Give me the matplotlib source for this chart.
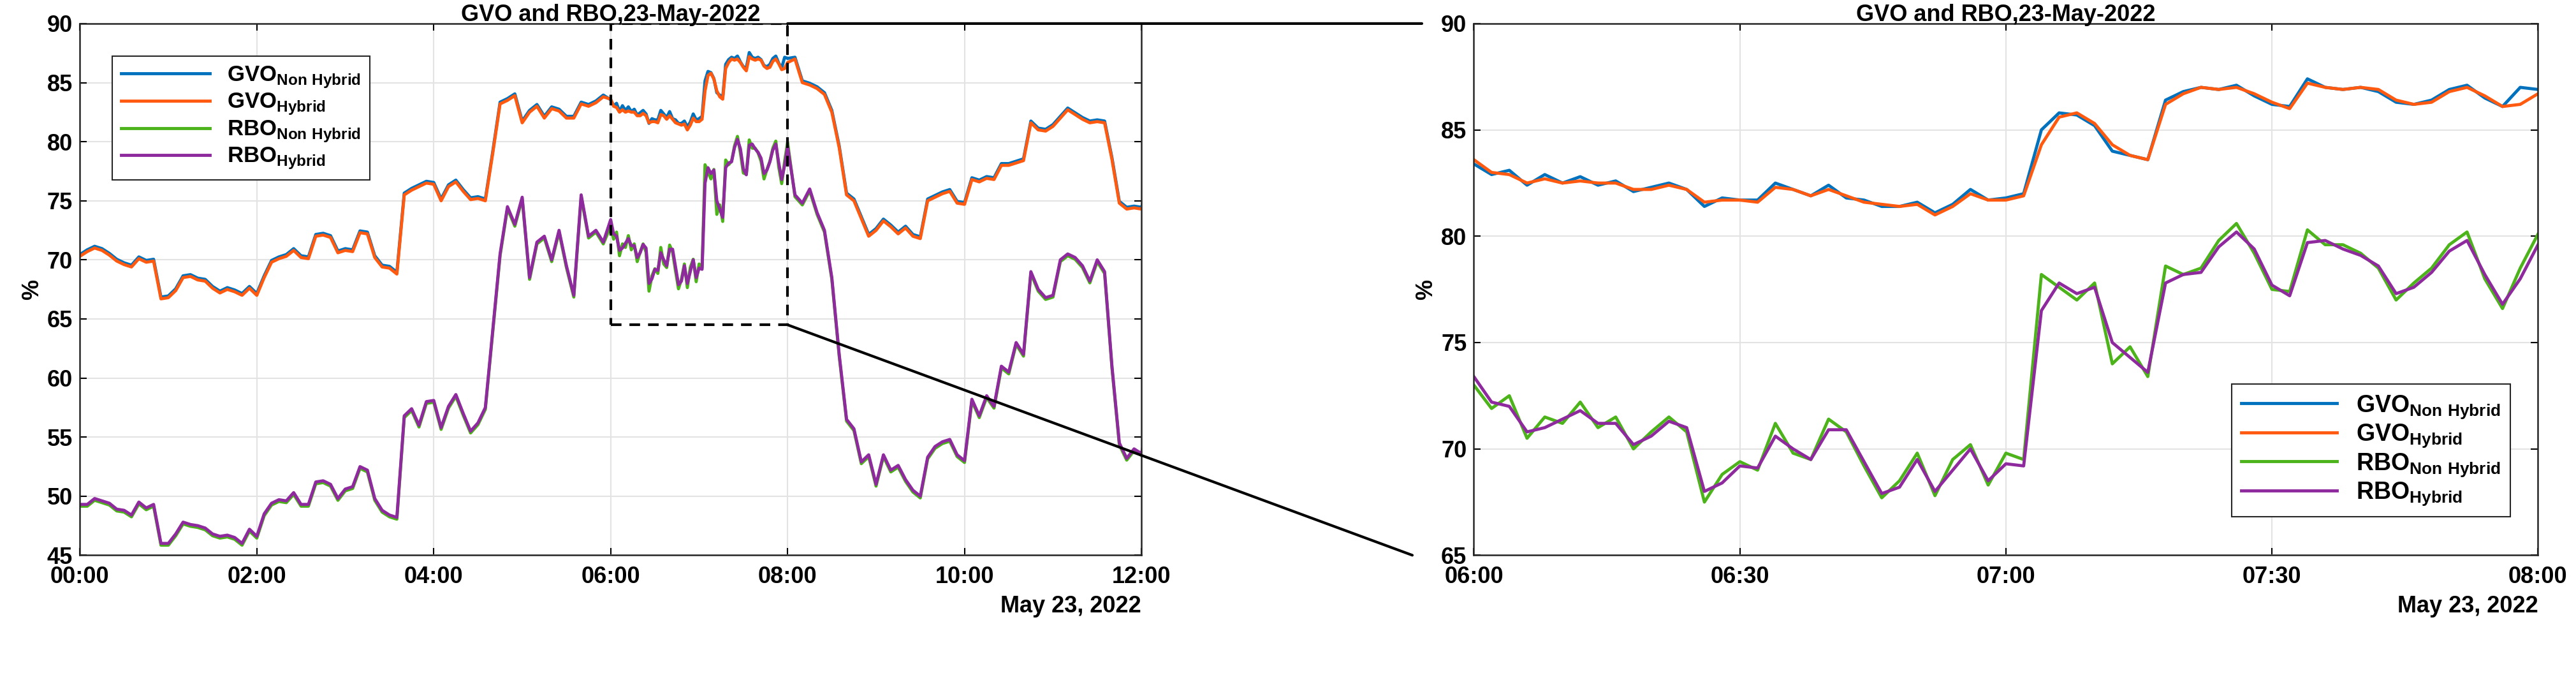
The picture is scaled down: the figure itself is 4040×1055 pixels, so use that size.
import numpy as np
import matplotlib
matplotlib.use('Agg')
import matplotlib.pyplot as plt
from matplotlib.patches import Rectangle, ConnectionPatch

plt.rcParams['font.family'] = ['Liberation Sans', 'DejaVu Sans']
plt.rcParams['mathtext.fontset'] = 'custom'
plt.rcParams['mathtext.rm'] = 'Liberation Sans'
plt.rcParams['mathtext.bf'] = 'Liberation Sans:bold'

# 00:00-05:55, every 5 min
gvo_early = [70.3, 70.7, 71.0, 70.8, 70.4, 69.9, 69.6, 69.4, 70.1, 69.8, 69.9, 66.7,
             66.8, 67.4, 68.5, 68.6, 68.3, 68.2, 67.6, 67.2, 67.5, 67.3, 67.0, 67.6,
             67.0, 68.5, 69.8, 70.1, 70.3, 70.8, 70.2, 70.1, 72.0, 72.1, 71.9, 70.6,
             70.8, 70.7, 72.3, 72.2, 70.2, 69.4, 69.3, 68.8, 75.5, 75.9, 76.2, 76.5,
             76.4, 75.0, 76.2, 76.6, 75.8, 75.1, 75.2, 75.0, 79.0, 83.2, 83.5, 83.9,
             81.6, 82.5, 83.0, 82.0, 82.8, 82.6, 82.0, 82.0, 83.2, 83.0, 83.3, 83.8]
rbo_early = [49.3, 49.3, 49.8, 49.6, 49.4, 48.9, 48.8, 48.4, 49.5, 49.0, 49.3, 46.0,
             46.0, 46.8, 47.8, 47.6, 47.5, 47.3, 46.8, 46.6, 46.7, 46.5, 46.0, 47.2,
             46.6, 48.5, 49.4, 49.7, 49.6, 50.3, 49.3, 49.3, 51.2, 51.3, 51.0, 49.8,
             50.6, 50.8, 52.5, 52.2, 49.8, 48.8, 48.4, 48.2, 56.8, 57.4, 56.0, 58.0,
             58.1, 55.8, 57.6, 58.6, 57.0, 55.5, 56.2, 57.5, 64.0, 70.5, 74.5, 73.0,
             75.3, 68.5, 71.5, 72.0, 70.0, 72.5, 69.5, 67.0, 75.5, 72.0, 72.5, 71.5]

# 06:00-08:00, every 2 min
gvo_nh_zoom = [83.4, 82.9, 83.1, 82.4, 82.9, 82.5, 82.8, 82.4, 82.6, 82.1, 82.3, 82.5,
               82.2, 81.4, 81.8, 81.7, 81.7, 82.5, 82.2, 81.9, 82.4, 81.8, 81.7, 81.4,
               81.4, 81.6, 81.1, 81.5, 82.2, 81.7, 81.8, 82.0, 85.0, 85.8, 85.7, 85.2,
               84.0, 83.8, 83.6, 86.4, 86.8, 87.0, 86.9, 87.1, 86.6, 86.2, 86.1, 87.4,
               87.0, 86.9, 87.0, 86.8, 86.3, 86.2, 86.4, 86.9, 87.1, 86.5, 86.1, 87.0, 86.9]
gvo_hy_zoom = [83.6, 83.0, 82.9, 82.5, 82.7, 82.5, 82.6, 82.5, 82.5, 82.2, 82.2, 82.4,
               82.2, 81.6, 81.7, 81.7, 81.6, 82.3, 82.2, 81.9, 82.2, 81.9, 81.6, 81.5,
               81.4, 81.5, 81.0, 81.4, 82.0, 81.7, 81.7, 81.9, 84.3, 85.6, 85.8, 85.3,
               84.3, 83.8, 83.6, 86.2, 86.7, 87.0, 86.9, 87.0, 86.7, 86.3, 86.0, 87.2,
               87.0, 86.9, 87.0, 86.9, 86.4, 86.2, 86.3, 86.8, 87.0, 86.6, 86.1, 86.2, 86.7]
rbo_nh_zoom = [73.0, 71.9, 72.5, 70.5, 71.5, 71.2, 72.2, 71.0, 71.5, 70.0, 70.8, 71.5,
               70.8, 67.5, 68.8, 69.4, 69.0, 71.2, 69.8, 69.5, 71.4, 70.8, 69.2, 67.7,
               68.5, 69.8, 67.8, 69.5, 70.2, 68.3, 69.8, 69.5, 78.2, 77.6, 77.0, 77.8,
               74.0, 74.8, 73.4, 78.6, 78.2, 78.5, 79.8, 80.6, 79.2, 77.5, 77.4, 80.3,
               79.6, 79.6, 79.2, 78.5, 77.0, 77.8, 78.5, 79.6, 80.2, 78.0, 76.6, 78.5, 80.1]
rbo_hy_zoom = [73.4, 72.2, 72.0, 70.8, 71.0, 71.4, 71.8, 71.2, 71.2, 70.2, 70.6, 71.3,
               71.0, 68.0, 68.4, 69.2, 69.1, 70.6, 70.0, 69.5, 70.9, 70.9, 69.4, 67.9,
               68.2, 69.5, 68.0, 69.0, 70.0, 68.5, 69.3, 69.2, 76.5, 77.8, 77.3, 77.6,
               75.0, 74.3, 73.6, 77.8, 78.2, 78.3, 79.5, 80.2, 79.4, 77.7, 77.2, 79.7,
               79.8, 79.4, 79.1, 78.6, 77.3, 77.6, 78.3, 79.3, 79.8, 78.2, 76.8, 78.0, 79.6]

# 08:05-12:00, every 5 min
gvo_late = [87.0, 85.0, 84.8, 84.5, 84.0, 82.5, 79.5, 75.5, 75.0, 73.5, 72.0,
            72.5, 73.3, 72.8, 72.2, 72.7, 72.0, 71.8, 75.0, 75.3, 75.6, 75.8, 74.8,
            74.7, 76.8, 76.6, 76.9, 76.8, 78.0, 78.0, 78.2, 78.4, 81.6, 81.0, 80.9,
            81.3, 82.0, 82.7, 82.3, 81.9, 81.6, 81.7, 81.6, 78.5, 74.8, 74.3, 74.4, 74.3, 76.0]
rbo_late = [75.5, 74.8, 76.0, 74.0, 72.5, 68.5, 62.0, 56.5, 55.7, 52.9, 53.5,
            51.0, 53.5, 52.2, 52.6, 51.4, 50.5, 50.0, 53.3, 54.2, 54.6, 54.8, 53.5,
            53.0, 58.2, 56.8, 58.5, 57.6, 61.0, 60.5, 63.0, 62.0, 69.0, 67.5, 66.8,
            67.0, 70.0, 70.5, 70.2, 69.5, 68.2, 70.0, 69.0, 61.0, 54.5, 53.2, 54.0, 53.6, 56.5]

t_early = np.arange(len(gvo_early)) * 5 / 60
t_zoom = 6 + np.arange(len(gvo_nh_zoom)) * 2 / 60
t_late = 8 + np.arange(1, len(gvo_late) + 1) * 5 / 60
t_all = np.concatenate([t_early, t_zoom, t_late])

c_gvo_nh, c_gvo_hy = '#0072BD', '#FF5A10'
c_rbo_nh, c_rbo_hy = '#4DB31A', '#8E2A9E'
labels = [r'GVO$_{\mathbf{Non\ Hybrid}}$', r'GVO$_{\mathbf{Hybrid}}$',
          r'RBO$_{\mathbf{Non\ Hybrid}}$', r'RBO$_{\mathbf{Hybrid}}$']

fig = plt.figure(figsize=(40.41, 10.55), dpi=100)
top = 0.965
ax1 = fig.add_axes([0.031, 0.175, 0.412, top - 0.175])
ax2 = fig.add_axes([0.572, 0.175, 0.413, top - 0.175])

lw = 3.5
ax1.plot(t_all, np.concatenate([gvo_early, gvo_nh_zoom, gvo_late]) + 0.15, color=c_gvo_nh, lw=lw, label=labels[0])
ax1.plot(t_all, np.concatenate([gvo_early, gvo_hy_zoom, gvo_late]), color=c_gvo_hy, lw=lw, label=labels[1])
ax1.plot(t_all, np.concatenate([rbo_early, rbo_nh_zoom, rbo_late]) - 0.15, color=c_rbo_nh, lw=lw, label=labels[2])
ax1.plot(t_all, np.concatenate([rbo_early, rbo_hy_zoom, rbo_late]), color=c_rbo_hy, lw=lw, label=labels[3])

ax2.plot(t_zoom, gvo_nh_zoom, color=c_gvo_nh, lw=lw, label=labels[0])
ax2.plot(t_zoom, gvo_hy_zoom, color=c_gvo_hy, lw=lw, label=labels[1])
ax2.plot(t_zoom, rbo_nh_zoom, color=c_rbo_nh, lw=lw, label=labels[2])
ax2.plot(t_zoom, rbo_hy_zoom, color=c_rbo_hy, lw=lw, label=labels[3])

fs = 26
for ax, xt, xl, yl in [(ax1, range(0, 13, 2), (0, 12), (45, 90)),
                       (ax2, [6, 6.5, 7, 7.5, 8], (6, 8), (65, 90))]:
    ax.set_xlim(*xl)
    ax.set_ylim(*yl)
    ax.set_xticks(list(xt))
    ax.set_xticklabels(['%02d:%02d' % (int(h), round((h % 1) * 60)) for h in xt],
                       fontsize=fs, fontweight='bold')
    ax.set_yticks(np.arange(yl[0], yl[1] + 1, 5))
    for lab in ax.get_yticklabels():
        lab.set_fontsize(fs)
        lab.set_fontweight('bold')
    ax.grid(True, color='#e3e3e3', lw=1.5)
    ax.tick_params(direction='in', length=8, width=1.5, top=True, right=True)
    ax.tick_params(axis='x', pad=12)
    ax.tick_params(axis='y', pad=8)
    for s in ax.spines.values():
        s.set_color('#262626')
        s.set_linewidth(1.8)
    ax.set_ylabel('%', fontsize=fs, fontweight='bold')
    ax.set_title('GVO and RBO,23-May-2022', fontsize=fs, fontweight='bold', pad=3)
    ax.text(1.0, -0.075, 'May 23, 2022', transform=ax.transAxes, ha='right', va='top',
            fontsize=fs, fontweight='bold')

leg_kw = dict(handlelength=4, edgecolor='#262626', fancybox=False,
              framealpha=1, borderpad=0.4, labelspacing=0.1)
l1 = ax1.legend(loc='upper left', bbox_to_anchor=(0.02, 0.96),
                prop={'weight': 'bold', 'size': 25}, **leg_kw)
l2 = ax2.legend(loc='lower right', bbox_to_anchor=(0.985, 0.05),
                prop={'weight': 'bold', 'size': 27}, **leg_kw)
for l in (l1, l2):
    l.get_frame().set_linewidth(1.5)

ax1.add_patch(Rectangle((6, 64.5), 2, 25.5, fill=False, ls=(0, (4, 3)), lw=3, color='black', zorder=5))
cp1 = ConnectionPatch((8, 90), (2230 / 4041, top), coordsA='data', coordsB='figure fraction',
                      axesA=ax1, color='black', lw=3)
cp2 = ConnectionPatch((8, 64.5), (2215 / 4041, 0.175), coordsA='data', coordsB='figure fraction',
                      axesA=ax1, color='black', lw=3)
fig.add_artist(cp1)
fig.add_artist(cp2)

fig.savefig('out.png', dpi=100, facecolor='white')
